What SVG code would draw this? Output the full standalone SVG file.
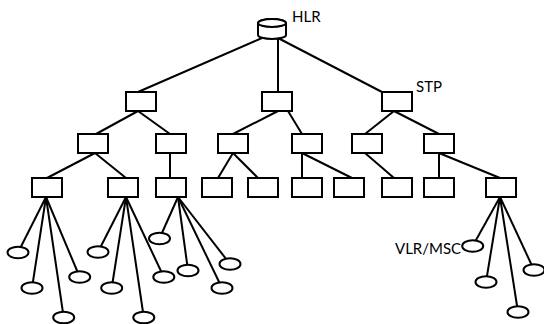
<svg xmlns="http://www.w3.org/2000/svg" width="544" height="324" viewBox="0 0 544 324">
  <style>
    .ln { stroke: #000; stroke-width: 2; fill: none; }
    .box { fill: #fff; stroke: #000; stroke-width: 2; }
    .ell { fill: #fff; stroke: #000; stroke-width: 2; }
    .lbl { font-family: Lato, "Liberation Sans", sans-serif; font-size: 15px; fill: #000; }
  </style>
  <defs>
    <rect id="b" width="30" height="19" class="box"/>
    <ellipse id="e" rx="10.5" ry="5.8" class="ell"/>
  </defs>

  <!-- connectors -->
  <g id="connectors" class="ln">
    <!-- HLR to first level -->
    <line x1="262" y1="38" x2="138" y2="92"/>
    <line x1="278" y1="38" x2="278" y2="92"/>
    <line x1="278" y1="38" x2="382" y2="92"/>
    <!-- first to second level -->
    <line x1="138" y1="111" x2="96" y2="134"/>
    <line x1="138" y1="111" x2="170" y2="134"/>
    <line x1="278" y1="111" x2="233" y2="134"/>
    <line x1="288" y1="111" x2="302" y2="134"/>
    <line x1="394" y1="111" x2="365" y2="134"/>
    <line x1="394" y1="111" x2="439" y2="134"/>
    <!-- second to third level -->
    <line x1="95" y1="153" x2="47" y2="178"/>
    <line x1="95" y1="153" x2="126" y2="178"/>
    <line x1="170" y1="153" x2="170" y2="178"/>
    <line x1="233" y1="153" x2="218" y2="178"/>
    <line x1="233" y1="153" x2="258" y2="178"/>
    <line x1="302" y1="153" x2="302" y2="178"/>
    <line x1="302" y1="153" x2="352" y2="178"/>
    <line x1="365" y1="153" x2="394" y2="178"/>
    <line x1="439" y1="153" x2="439" y2="178"/>
    <line x1="439" y1="153" x2="500" y2="178"/>
    <!-- third level to VLR/MSC -->
    <line x1="46" y1="197" x2="18" y2="252.5"/>
    <line x1="46" y1="197" x2="32" y2="288"/>
    <line x1="46" y1="197" x2="63.7" y2="317.5"/>
    <line x1="46" y1="197" x2="79.7" y2="277"/>
    <line x1="126" y1="197" x2="98" y2="252"/>
    <line x1="126" y1="197" x2="111.7" y2="288"/>
    <line x1="126" y1="197" x2="143.8" y2="317.5"/>
    <line x1="126" y1="197" x2="163.8" y2="277"/>
    <line x1="178" y1="197" x2="159.5" y2="238.5"/>
    <line x1="178" y1="197" x2="188" y2="270.5"/>
    <line x1="178" y1="197" x2="222" y2="288"/>
    <line x1="178" y1="197" x2="230" y2="264"/>
    <line x1="500" y1="197" x2="472.7" y2="246"/>
    <line x1="500" y1="197" x2="486" y2="282"/>
    <line x1="500" y1="197" x2="518" y2="312"/>
    <line x1="500" y1="197" x2="534" y2="270"/>
  </g>

  <!-- HLR database -->
  <g id="hlr">
    <path class="box" d="M258,23 L258,35 A14,4 0 0 0 286,35 L286,23 A14,4 0 0 0 258,23 Z"/>
    <ellipse class="box" cx="272" cy="23" rx="14" ry="4"/>
    <text class="lbl" x="292" y="22">HLR</text>
  </g>

  <!-- STP level 1 -->
  <g id="stp1"><use href="#b" x="126" y="92"/></g>
  <g id="stp2"><use href="#b" x="262" y="92"/></g>
  <g id="stp3"><use href="#b" x="382" y="92"/><text class="lbl" x="416" y="92">STP</text></g>

  <!-- STP level 2 -->
  <g id="stp4"><use href="#b" x="78" y="134"/></g>
  <g id="stp5"><use href="#b" x="156" y="134"/></g>
  <g id="stp6"><use href="#b" x="218" y="134"/></g>
  <g id="stp7"><use href="#b" x="292" y="134"/></g>
  <g id="stp8"><use href="#b" x="352" y="134"/></g>
  <g id="stp9"><use href="#b" x="424" y="134"/></g>

  <!-- STP level 3 -->
  <g id="stp10"><use href="#b" x="32" y="178"/></g>
  <g id="stp11"><use href="#b" x="108" y="178"/></g>
  <g id="stp12"><use href="#b" x="156" y="178"/></g>
  <g id="stp13"><use href="#b" x="202" y="178"/></g>
  <g id="stp14"><use href="#b" x="248" y="178"/></g>
  <g id="stp15"><use href="#b" x="292" y="178"/></g>
  <g id="stp16"><use href="#b" x="334" y="178"/></g>
  <g id="stp17"><use href="#b" x="382" y="178"/></g>
  <g id="stp18"><use href="#b" x="424" y="178"/></g>
  <g id="stp19"><use href="#b" x="486" y="178"/></g>

  <!-- VLR/MSC nodes -->
  <g id="vlr1"><use href="#e" x="18" y="252.5"/></g>
  <g id="vlr2"><use href="#e" x="32" y="288"/></g>
  <g id="vlr3"><use href="#e" x="63.7" y="317.5"/></g>
  <g id="vlr4"><use href="#e" x="79.7" y="277"/></g>
  <g id="vlr5"><use href="#e" x="98" y="252"/></g>
  <g id="vlr6"><use href="#e" x="111.7" y="288"/></g>
  <g id="vlr7"><use href="#e" x="143.8" y="317.5"/></g>
  <g id="vlr8"><use href="#e" x="163.8" y="277"/></g>
  <g id="vlr9"><use href="#e" x="159.5" y="238.5"/></g>
  <g id="vlr10"><use href="#e" x="188" y="270.5"/></g>
  <g id="vlr11"><use href="#e" x="222" y="288"/></g>
  <g id="vlr12"><use href="#e" x="230" y="264"/></g>
  <g id="vlr13"><use href="#e" x="472.7" y="246"/><text class="lbl" x="395" y="254">VLR/MSC</text></g>
  <g id="vlr14"><use href="#e" x="486" y="282"/></g>
  <g id="vlr15"><use href="#e" x="518" y="312"/></g>
  <g id="vlr16"><use href="#e" x="534" y="270"/></g>
</svg>
